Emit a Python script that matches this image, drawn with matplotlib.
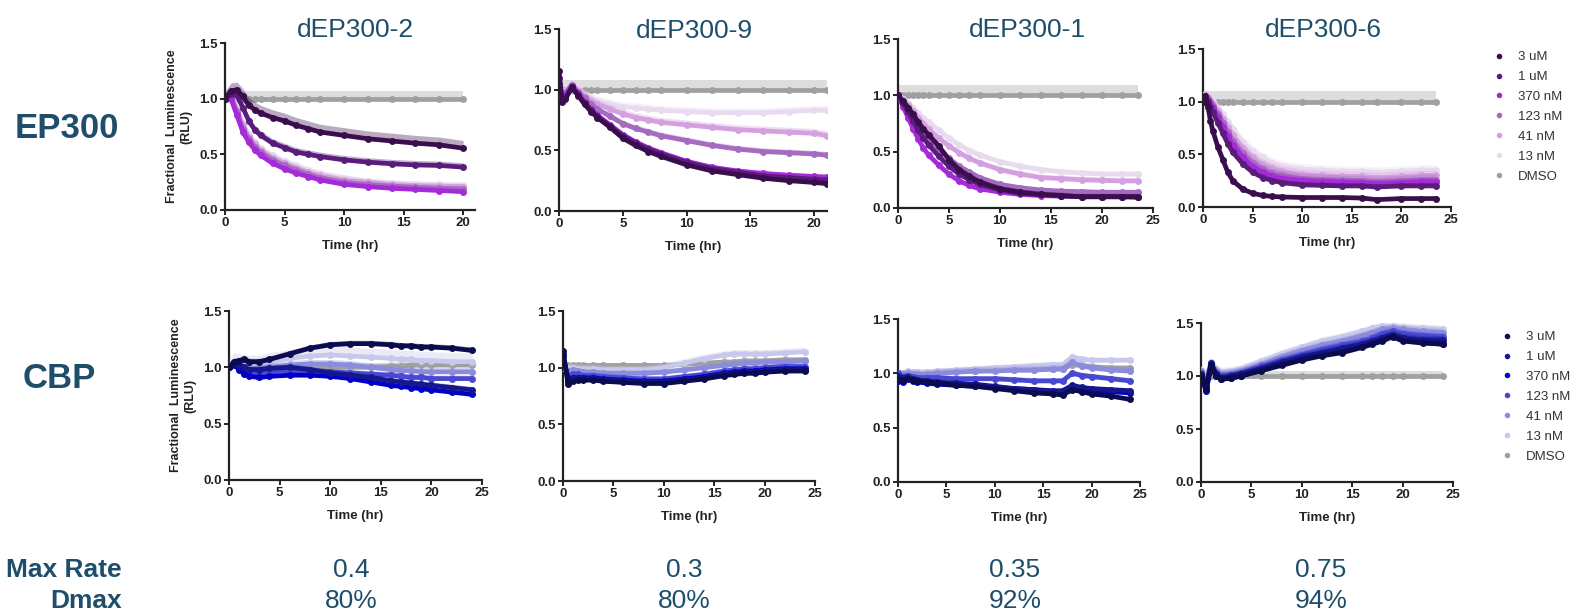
import matplotlib
matplotlib.use('Agg')
import matplotlib.pyplot as plt
from matplotlib.lines import Line2D

plt.rcParams['font.family'] = ['Liberation Sans', 'DejaVu Sans']

# ---------------- data ----------------
concentrations = ['3 uM', '1 uM', '370 nM', '123 nM', '41 nM', '13 nM', 'DMSO']
compounds = ['dEP300-2', 'dEP300-9', 'dEP300-1', 'dEP300-6']
row_labels = ['EP300', 'CBP']
max_rate = ['0.4', '0.3', '0.35', '0.75']
dmax = ['80%', '80%', '92%', '94%']

purple_colors = ['#3a0d4d', '#5a1c7a', '#a52ad8', '#a46bc0', '#d4a0e0', '#e9dbef', '#a0a0a0']
blue_colors = ['#0b0b4f', '#16168f', '#0000c8', '#4848d2', '#8c8cdc', '#c8c8ec', '#a0a0a0']

# EP300 / dEP300-2
time_ep_d2 = [0, 0.5, 1, 1.5, 2, 2.5, 3, 4, 5, 6, 7, 8, 10, 12, 14, 16, 18, 20]
ep_d2 = [
    [1.00, 1.07, 1.08, 1.02, 0.94, 0.90, 0.87, 0.83, 0.80, 0.76, 0.73, 0.70, 0.67, 0.64, 0.62, 0.60, 0.585, 0.555],
    [1.00, 1.04, 1.03, 0.92, 0.80, 0.72, 0.67, 0.60, 0.56, 0.52, 0.50, 0.48, 0.45, 0.43, 0.415, 0.405, 0.40, 0.385],
    [1.00, 1.00, 0.85, 0.70, 0.61, 0.54, 0.49, 0.42, 0.37, 0.33, 0.30, 0.27, 0.23, 0.21, 0.195, 0.185, 0.175, 0.165],
    [1.00, 1.02, 0.88, 0.73, 0.64, 0.57, 0.52, 0.45, 0.40, 0.36, 0.32, 0.29, 0.25, 0.23, 0.215, 0.205, 0.195, 0.19],
    [1.00, 1.03, 0.90, 0.76, 0.66, 0.59, 0.54, 0.47, 0.42, 0.38, 0.34, 0.31, 0.27, 0.25, 0.23, 0.22, 0.215, 0.21],
    [1.00, 1.04, 0.92, 0.78, 0.68, 0.61, 0.56, 0.49, 0.44, 0.40, 0.36, 0.33, 0.29, 0.26, 0.245, 0.235, 0.23, 0.225],
    [1.00, 1.00, 1.00, 1.00, 1.00, 1.00, 1.00, 1.00, 1.00, 1.00, 1.00, 1.00, 1.00, 1.00, 1.00, 1.00, 1.00, 1.00],
]
err_ep_d2 = [0.07, 0.04, 0.02, 0.02, 0.02, 0.02, 0.07]

# EP300 / dEP300-9
time_ep_d9 = [0, 0.25, 0.5, 1, 1.5, 2, 2.5, 3, 4, 5, 6, 7, 8, 10, 12, 14, 16, 18, 20, 21]
ep_d9 = [
    [1.15, 0.90, 0.92, 1.02, 0.95, 0.88, 0.82, 0.77, 0.69, 0.60, 0.54, 0.49, 0.45, 0.38, 0.33, 0.30, 0.27, 0.25, 0.235, 0.225],
    [1.10, 0.92, 0.93, 1.02, 0.96, 0.89, 0.83, 0.78, 0.70, 0.62, 0.56, 0.51, 0.47, 0.40, 0.35, 0.32, 0.29, 0.275, 0.26, 0.255],
    [1.05, 0.93, 0.95, 1.03, 0.97, 0.90, 0.84, 0.79, 0.71, 0.63, 0.57, 0.52, 0.48, 0.41, 0.36, 0.33, 0.31, 0.295, 0.285, 0.28],
    [1.02, 0.95, 0.97, 1.04, 0.98, 0.93, 0.88, 0.84, 0.78, 0.72, 0.68, 0.65, 0.62, 0.58, 0.54, 0.51, 0.49, 0.48, 0.47, 0.46],
    [1.00, 0.96, 0.98, 1.04, 0.99, 0.95, 0.91, 0.88, 0.84, 0.80, 0.77, 0.75, 0.73, 0.71, 0.69, 0.67, 0.66, 0.65, 0.64, 0.62],
    [1.00, 0.97, 0.99, 1.05, 1.00, 0.96, 0.93, 0.91, 0.88, 0.86, 0.85, 0.84, 0.83, 0.82, 0.81, 0.81, 0.81, 0.82, 0.83, 0.83],
    [1.00, 1.00, 1.00, 1.00, 1.00, 1.00, 1.00, 1.00, 1.00, 1.00, 1.00, 1.00, 1.00, 1.00, 1.00, 1.00, 1.00, 1.00, 1.00, 1.00],
]
err_ep_d9 = [0.02, 0.02, 0.02, 0.03, 0.04, 0.04, 0.08]

# EP300 / dEP300-1
time_ep_d1 = [0, 0.5, 1, 1.5, 2, 2.5, 3, 4, 5, 6, 7, 8, 10, 12, 14, 16, 18, 20, 22, 23.5]
ep_d1 = [
    [1.00, 0.95, 0.89, 0.83, 0.76, 0.70, 0.65, 0.55, 0.43, 0.34, 0.28, 0.23, 0.17, 0.14, 0.12, 0.11, 0.10, 0.10, 0.10, 0.10],
    [1.00, 0.93, 0.85, 0.77, 0.69, 0.62, 0.56, 0.46, 0.37, 0.30, 0.25, 0.21, 0.16, 0.13, 0.12, 0.11, 0.10, 0.10, 0.10, 0.095],
    [1.00, 0.90, 0.80, 0.70, 0.61, 0.53, 0.47, 0.38, 0.30, 0.24, 0.20, 0.17, 0.14, 0.12, 0.11, 0.105, 0.10, 0.10, 0.10, 0.10],
    [1.00, 0.94, 0.87, 0.80, 0.73, 0.67, 0.61, 0.52, 0.44, 0.37, 0.32, 0.27, 0.21, 0.18, 0.16, 0.15, 0.145, 0.14, 0.14, 0.14],
    [1.00, 0.96, 0.91, 0.86, 0.80, 0.75, 0.70, 0.62, 0.55, 0.49, 0.44, 0.40, 0.34, 0.30, 0.27, 0.26, 0.25, 0.245, 0.24, 0.24],
    [1.00, 0.97, 0.93, 0.89, 0.84, 0.80, 0.76, 0.69, 0.62, 0.56, 0.51, 0.47, 0.41, 0.37, 0.34, 0.32, 0.31, 0.30, 0.30, 0.30],
    [1.00, 1.00, 1.00, 1.00, 1.00, 1.00, 1.00, 1.00, 1.00, 1.00, 1.00, 1.00, 1.00, 1.00, 1.00, 1.00, 1.00, 1.00, 1.00, 1.00],
]
err_ep_d1 = [0.03, 0.02, 0.02, 0.02, 0.03, 0.03, 0.09]

# EP300 / dEP300-6
time_ep_d6 = [0, 0.25, 0.5, 0.75, 1, 1.5, 2, 2.5, 3, 4, 5, 6, 7, 8, 10, 12, 14, 16, 17.5, 20, 22, 23.5]
ep_d6 = [
    [1.00, 1.05, 0.95, 0.82, 0.72, 0.57, 0.45, 0.33, 0.25, 0.17, 0.13, 0.11, 0.10, 0.095, 0.09, 0.09, 0.09, 0.085, 0.07, 0.08, 0.08, 0.08],
    [1.00, 1.03, 1.00, 0.95, 0.90, 0.80, 0.70, 0.60, 0.52, 0.41, 0.33, 0.28, 0.25, 0.23, 0.21, 0.205, 0.20, 0.20, 0.19, 0.20, 0.20, 0.20],
    [1.00, 1.05, 1.02, 0.98, 0.94, 0.85, 0.76, 0.67, 0.59, 0.47, 0.38, 0.33, 0.29, 0.27, 0.25, 0.24, 0.235, 0.23, 0.22, 0.23, 0.24, 0.24],
    [1.00, 1.05, 1.03, 1.00, 0.96, 0.88, 0.80, 0.71, 0.63, 0.51, 0.42, 0.36, 0.32, 0.30, 0.27, 0.26, 0.255, 0.25, 0.24, 0.25, 0.26, 0.26],
    [1.00, 1.06, 1.04, 1.01, 0.98, 0.91, 0.84, 0.76, 0.68, 0.56, 0.47, 0.41, 0.37, 0.34, 0.31, 0.30, 0.29, 0.29, 0.28, 0.29, 0.30, 0.30],
    [1.00, 1.07, 1.05, 1.03, 1.00, 0.94, 0.88, 0.81, 0.74, 0.62, 0.53, 0.47, 0.42, 0.39, 0.36, 0.35, 0.34, 0.34, 0.33, 0.34, 0.35, 0.35],
    [1.00, 1.00, 1.00, 1.00, 1.00, 1.00, 1.00, 1.00, 1.00, 1.00, 1.00, 1.00, 1.00, 1.00, 1.00, 1.00, 1.00, 1.00, 1.00, 1.00, 1.00, 1.00],
]
err_ep_d6 = [0.02, 0.03, 0.04, 0.05, 0.05, 0.05, 0.10]

# CBP panels share one time grid
time_cbp = [0, 0.5, 1, 1.5, 2, 3, 4, 6, 8, 10, 12, 14, 16, 17, 18, 19, 20, 22, 24]

cbp_d2 = [
    [1.00, 1.05, 1.06, 1.07, 1.05, 1.05, 1.07, 1.12, 1.17, 1.20, 1.21, 1.21, 1.20, 1.19, 1.19, 1.18, 1.18, 1.17, 1.15],
    [1.00, 1.04, 1.02, 1.00, 0.98, 0.98, 0.99, 1.00, 0.98, 0.95, 0.93, 0.91, 0.88, 0.87, 0.86, 0.85, 0.84, 0.82, 0.80],
    [1.00, 1.02, 0.98, 0.94, 0.92, 0.91, 0.92, 0.93, 0.93, 0.92, 0.90, 0.87, 0.84, 0.83, 0.82, 0.81, 0.80, 0.78, 0.76],
    [1.00, 1.03, 1.00, 0.97, 0.95, 0.95, 0.96, 0.97, 0.97, 0.96, 0.95, 0.94, 0.93, 0.92, 0.91, 0.91, 0.90, 0.90, 0.90],
    [1.00, 1.04, 1.02, 1.00, 0.99, 0.99, 1.00, 1.02, 1.03, 1.03, 1.02, 1.00, 0.98, 0.97, 0.97, 0.96, 0.96, 0.96, 0.96],
    [1.00, 1.05, 1.04, 1.03, 1.03, 1.03, 1.05, 1.08, 1.10, 1.11, 1.10, 1.09, 1.08, 1.07, 1.07, 1.06, 1.06, 1.05, 1.05],
    [1.00, 1.05, 1.02, 1.00, 1.00, 1.00, 1.00, 1.00, 1.00, 1.00, 1.00, 1.00, 1.01, 1.01, 1.02, 1.02, 1.02, 1.02, 1.02],
]
err_cbp_d2 = [0.03, 0.03, 0.02, 0.03, 0.04, 0.08, 0.04]

cbp_d9 = [
    [1.15, 0.86, 0.88, 0.89, 0.89, 0.89, 0.88, 0.87, 0.86, 0.86, 0.88, 0.90, 0.93, 0.94, 0.95, 0.95, 0.96, 0.97, 0.97],
    [1.12, 0.88, 0.90, 0.90, 0.90, 0.90, 0.89, 0.88, 0.87, 0.87, 0.89, 0.91, 0.94, 0.95, 0.96, 0.96, 0.97, 0.98, 0.98],
    [1.10, 0.90, 0.91, 0.91, 0.91, 0.91, 0.90, 0.89, 0.88, 0.88, 0.90, 0.92, 0.95, 0.96, 0.97, 0.97, 0.98, 0.99, 0.99],
    [1.05, 0.93, 0.94, 0.94, 0.93, 0.93, 0.92, 0.91, 0.90, 0.90, 0.92, 0.94, 0.97, 0.98, 0.99, 0.99, 1.00, 1.01, 1.01],
    [1.02, 0.97, 0.98, 0.97, 0.96, 0.96, 0.95, 0.95, 0.95, 0.96, 0.98, 1.00, 1.02, 1.03, 1.04, 1.04, 1.05, 1.05, 1.06],
    [1.00, 1.00, 1.00, 0.99, 0.99, 0.99, 0.98, 0.98, 0.98, 1.00, 1.04, 1.08, 1.11, 1.12, 1.12, 1.12, 1.12, 1.13, 1.14],
    [1.00, 1.02, 1.02, 1.02, 1.02, 1.02, 1.02, 1.02, 1.02, 1.02, 1.03, 1.04, 1.05, 1.05, 1.06, 1.06, 1.06, 1.07, 1.07],
]
err_cbp_d9 = [0.02, 0.02, 0.02, 0.03, 0.03, 0.04, 0.02]

cbp_d1 = [
    [0.95, 0.94, 0.95, 0.94, 0.93, 0.92, 0.91, 0.89, 0.88, 0.86, 0.84, 0.82, 0.81, 0.80, 0.85, 0.83, 0.81, 0.79, 0.76],
    [0.98, 0.96, 0.97, 0.95, 0.94, 0.93, 0.92, 0.91, 0.90, 0.88, 0.86, 0.85, 0.84, 0.84, 0.89, 0.87, 0.86, 0.85, 0.84],
    [0.93, 0.92, 0.96, 0.93, 0.92, 0.91, 0.90, 0.89, 0.88, 0.87, 0.86, 0.85, 0.83, 0.82, 0.86, 0.85, 0.84, 0.83, 0.82],
    [1.00, 0.97, 0.98, 0.97, 0.96, 0.96, 0.96, 0.95, 0.95, 0.95, 0.94, 0.93, 0.93, 0.93, 1.00, 0.98, 0.97, 0.95, 0.93],
    [1.00, 0.99, 1.00, 0.99, 0.99, 0.99, 1.00, 1.01, 1.02, 1.02, 1.03, 1.03, 1.04, 1.04, 1.10, 1.07, 1.05, 1.03, 1.02],
    [1.00, 1.00, 1.02, 1.01, 1.01, 1.01, 1.02, 1.03, 1.04, 1.05, 1.06, 1.07, 1.08, 1.08, 1.15, 1.13, 1.12, 1.12, 1.12],
    [1.00, 1.00, 1.01, 1.01, 1.01, 1.01, 1.01, 1.02, 1.02, 1.03, 1.03, 1.03, 1.04, 1.04, 1.08, 1.07, 1.06, 1.05, 1.05],
]
err_cbp_d1 = [0.02, 0.02, 0.02, 0.03, 0.04, 0.03, 0.02]

cbp_d6 = [
    [1.00, 0.88, 1.10, 1.00, 0.97, 0.98, 1.00, 1.05, 1.10, 1.15, 1.19, 1.22, 1.27, 1.30, 1.33, 1.37, 1.33, 1.31, 1.30],
    [1.02, 0.90, 1.12, 1.02, 0.98, 1.00, 1.02, 1.07, 1.13, 1.18, 1.22, 1.26, 1.30, 1.33, 1.36, 1.39, 1.36, 1.34, 1.34],
    [1.00, 0.86, 1.08, 1.00, 0.97, 0.98, 1.00, 1.06, 1.11, 1.16, 1.20, 1.24, 1.28, 1.31, 1.34, 1.38, 1.35, 1.32, 1.30],
    [1.03, 0.92, 1.10, 1.03, 1.00, 1.01, 1.03, 1.09, 1.15, 1.20, 1.25, 1.29, 1.33, 1.36, 1.40, 1.42, 1.40, 1.38, 1.37],
    [1.05, 0.95, 1.12, 1.05, 1.02, 1.03, 1.05, 1.11, 1.18, 1.24, 1.29, 1.33, 1.38, 1.41, 1.44, 1.45, 1.44, 1.42, 1.41],
    [1.06, 1.00, 1.13, 1.07, 1.04, 1.05, 1.07, 1.14, 1.21, 1.27, 1.33, 1.37, 1.42, 1.45, 1.47, 1.47, 1.46, 1.45, 1.44],
    [1.00, 1.00, 1.00, 1.00, 1.00, 1.00, 1.00, 1.00, 1.00, 1.00, 1.00, 1.00, 1.00, 1.00, 1.00, 1.00, 1.00, 1.00, 1.00],
]
err_cbp_d6 = [0.04, 0.04, 0.04, 0.04, 0.04, 0.04, 0.05]

y_ticks = [0.0, 0.5, 1.0, 1.5]

# ---------------- layout ----------------
W, H = 1576, 612
fig = plt.figure(figsize=(W / 100, H / 100), dpi=100)
TEXT_BLUE = '#1F4E6B'
AXC = '#222222'

def px_axes(x0, x1, ytop, ybot):
    return fig.add_axes([x0 / W, 1 - ybot / H, (x1 - x0) / W, (ybot - ytop) / H])

panels = [
    ((225, 475, 43, 210), 21, [0, 5, 10, 15, 20], time_ep_d2, ep_d2, err_ep_d2, purple_colors),
    ((559, 827, 29, 211), 21, [0, 5, 10, 15, 20], time_ep_d9, ep_d9, err_ep_d9, purple_colors),
    ((898, 1153, 39, 208), 25, [0, 5, 10, 15, 20, 25], time_ep_d1, ep_d1, err_ep_d1, purple_colors),
    ((1203, 1451, 49, 207), 25, [0, 5, 10, 15, 20, 25], time_ep_d6, ep_d6, err_ep_d6, purple_colors),
    ((229, 482, 311, 480), 25, [0, 5, 10, 15, 20, 25], time_cbp, cbp_d2, err_cbp_d2, blue_colors),
    ((563, 815, 311, 481), 25, [0, 5, 10, 15, 20, 25], time_cbp, cbp_d9, err_cbp_d9, blue_colors),
    ((898, 1140, 319, 482), 25, [0, 5, 10, 15, 20, 25], time_cbp, cbp_d1, err_cbp_d1, blue_colors),
    ((1201, 1453, 323, 482), 25, [0, 5, 10, 15, 20, 25], time_cbp, cbp_d6, err_cbp_d6, blue_colors),
]

axes = []
for i, (box, xmax, xt, t, data, err, cols) in enumerate(panels):
    ax = px_axes(*box)
    axes.append(ax)
    for k in range(len(data) - 1, -1, -1):
        y = data[k]
        upper = [v + err[k] for v in y]
        ax.fill_between(t, y, upper, color=cols[k], alpha=0.35, lw=0, zorder=2 + (6 - k))
        ax.plot(t, y, color=cols[k], lw=3.4, marker='o', ms=5, mew=0,
                solid_capstyle='round', zorder=3 + (6 - k))
    ax.set_xlim(0, xmax)
    ax.set_ylim(0, 1.5)
    ax.set_xticks(xt)
    ax.set_yticks(y_ticks)
    ax.set_yticklabels([f'{v:.1f}' for v in y_ticks])
    for s in ['top', 'right']:
        ax.spines[s].set_visible(False)
    for s in ['left', 'bottom']:
        ax.spines[s].set_linewidth(1.6)
        ax.spines[s].set_color(AXC)
    ax.tick_params(axis='both', direction='out', length=3.5, width=1.4, color=AXC,
                   labelsize=9.5, labelcolor=AXC, pad=1.5)
    for lab in ax.get_xticklabels() + ax.get_yticklabels():
        lab.set_fontweight('bold')
    ax.set_xlabel('Time (hr)', fontsize=9.5, fontweight='bold', color=AXC, labelpad=8)
    ax.patch.set_alpha(0)

for ax in (axes[0], axes[4]):
    ax.set_ylabel('Fractional  Luminescence\n(RLU)', fontsize=9, fontweight='bold',
                  color=AXC, labelpad=5, linespacing=1.3)

title_pos = [(355, 37), (694, 38), (1027, 37), (1323, 37)]
for name, (x, y) in zip(compounds, title_pos):
    fig.text(x / W, 1 - y / H, name, fontsize=19, color=TEXT_BLUE, ha='center', va='baseline')

fig.text(15 / W, 1 - 138 / H, row_labels[0], fontsize=25, fontweight='bold', color=TEXT_BLUE,
         ha='left', va='baseline')
fig.text(23 / W, 1 - 388 / H, row_labels[1], fontsize=25, fontweight='bold', color=TEXT_BLUE,
         ha='left', va='baseline')

fig.text(122 / W, 1 - 577 / H, 'Max Rate', fontsize=19, fontweight='bold', color=TEXT_BLUE,
         ha='right', va='baseline')
fig.text(122 / W, 1 - 608 / H, 'Dmax', fontsize=19, fontweight='bold', color=TEXT_BLUE,
         ha='right', va='baseline')
metric_x = [351, 684, 1015, 1321]
for x, mr, dm in zip(metric_x, max_rate, dmax):
    fig.text(x / W, 1 - 577 / H, mr, fontsize=19, color=TEXT_BLUE, ha='center', va='baseline')
    fig.text(x / W, 1 - 608 / H, dm, fontsize=19, color=TEXT_BLUE, ha='center', va='baseline')

def make_legend(cols, anchor):
    handles = [Line2D([], [], ls='none', marker='o', ms=4, mew=0, color=c) for c in cols]
    fig.legend(handles, concentrations, loc='upper left', bbox_to_anchor=anchor,
               frameon=False, fontsize=9.5, handlelength=0.8, handletextpad=1.0,
               labelspacing=0.58, borderpad=0, borderaxespad=0, labelcolor='#333333')

make_legend(purple_colors, (1494 / W, 1 - 51 / H))
make_legend(blue_colors, (1502 / W, 1 - 331 / H))

fig.savefig('out.png', dpi=100)
